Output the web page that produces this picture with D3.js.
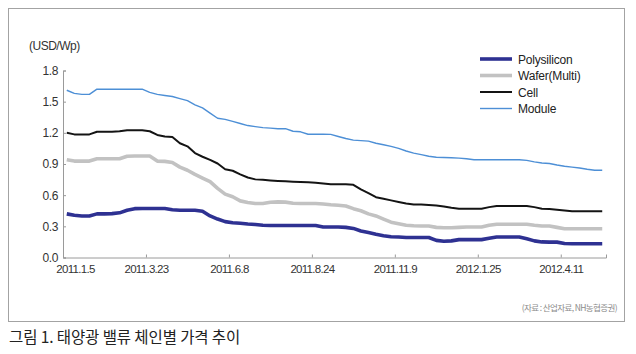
<!DOCTYPE html>
<html>
<head>
<meta charset="utf-8">
<script src="https://cdn.jsdelivr.net/npm/d3@7"></script>
<style>
  body { margin: 0; background: #fff; }
  svg { display: block; }
</style>
</head>
<body>
<svg id="chart" width="636" height="354"></svg>
<script>
// weekly prices, 2011.1.5 ~ (72 weeks)
let tickLabels = ['2011.1.5', '2011.3.23', '2011.6.8', '2011.8.24', '2011.11.9', '2012.1.25', '2012.4.11'];
let tickWeeks = [0, 11, 22, 33, 44, 55, 66];
let yTicks = [0, 0.3, 0.6, 0.9, 1.2, 1.5, 1.8];

let seriesNames = ['Polysilicon', 'Wafer(Multi)', 'Cell', 'Module'];

let polysilicon = [0.42, 0.406, 0.40, 0.40, 0.42, 0.42, 0.422, 0.43, 0.455, 0.47,
    0.472, 0.472, 0.472, 0.472, 0.46, 0.455, 0.455, 0.455, 0.445, 0.40,
    0.37, 0.345, 0.335, 0.33, 0.322, 0.318, 0.31, 0.308, 0.308, 0.308,
    0.308, 0.308, 0.308, 0.308, 0.294, 0.294, 0.294, 0.29, 0.28, 0.255,
    0.24, 0.223, 0.21, 0.20, 0.197, 0.193, 0.193, 0.193, 0.193, 0.165,
    0.156, 0.16, 0.172, 0.172, 0.172, 0.172, 0.185, 0.197, 0.197, 0.197,
    0.197, 0.18, 0.16, 0.15, 0.148, 0.148, 0.135, 0.133, 0.133, 0.133,
    0.133, 0.133];

let wafer = [0.94, 0.928, 0.928, 0.928, 0.95, 0.951, 0.951, 0.951, 0.975, 0.977,
    0.977, 0.977, 0.928, 0.925, 0.915, 0.87, 0.84, 0.80, 0.765, 0.73,
    0.665, 0.61, 0.585, 0.545, 0.53, 0.52, 0.52, 0.532, 0.535, 0.533,
    0.522, 0.52, 0.52, 0.52, 0.515, 0.508, 0.503, 0.495, 0.47, 0.45,
    0.42, 0.40, 0.37, 0.34, 0.325, 0.31, 0.305, 0.303, 0.303, 0.29,
    0.287, 0.287, 0.29, 0.294, 0.294, 0.294, 0.31, 0.32, 0.32, 0.32,
    0.32, 0.32, 0.31, 0.303, 0.303, 0.29, 0.277, 0.277, 0.277, 0.277,
    0.277, 0.277];

let cell = [1.20, 1.185, 1.185, 1.185, 1.21, 1.21, 1.21, 1.215, 1.225, 1.225,
    1.225, 1.215, 1.18, 1.165, 1.16, 1.10, 1.07, 1.005, 0.97, 0.94,
    0.905, 0.85, 0.835, 0.80, 0.77, 0.752, 0.748, 0.742, 0.737, 0.733,
    0.73, 0.727, 0.725, 0.72, 0.712, 0.705, 0.704, 0.704, 0.70, 0.655,
    0.62, 0.58, 0.565, 0.55, 0.535, 0.52, 0.51, 0.51, 0.505, 0.50,
    0.49, 0.478, 0.47, 0.47, 0.47, 0.47, 0.485, 0.496, 0.496, 0.496,
    0.496, 0.496, 0.485, 0.47, 0.467, 0.46, 0.452, 0.445, 0.445, 0.445,
    0.445, 0.445];

let module = [1.61, 1.58, 1.57, 1.57, 1.62, 1.62, 1.62, 1.62, 1.62, 1.62,
    1.62, 1.59, 1.57, 1.56, 1.55, 1.53, 1.51, 1.47, 1.44, 1.39,
    1.34, 1.33, 1.31, 1.29, 1.27, 1.26, 1.25, 1.245, 1.24, 1.24,
    1.215, 1.21, 1.186, 1.186, 1.186, 1.185, 1.165, 1.145, 1.13, 1.125,
    1.12, 1.10, 1.085, 1.07, 1.05, 1.025, 1.005, 0.99, 0.975, 0.965,
    0.963, 0.96, 0.957, 0.95, 0.941, 0.941, 0.941, 0.941, 0.941, 0.941,
    0.941, 0.935, 0.92, 0.91, 0.905, 0.89, 0.878, 0.87, 0.862, 0.85,
    0.84, 0.84];

let seriesData = [polysilicon, wafer, cell, module];
let seriesColors = ['#2e3192', '#c2c2c2', '#141414', '#4d8fd6'];
let seriesWidths = [3.6, 3.6, 2, 1.4];

let svg = d3.select('#chart');

// frame round the chart
svg.append('rect')
    .attr('x', 8.5).attr('y', 8.5)
    .attr('width', 616).attr('height', 313)
    .attr('fill', 'none')
    .attr('stroke', '#a3a3a3')
    .attr('stroke-width', 1);

let margL = 63;
let plotR = 606;
let plotT = 70.5;
let plotB = 257.5;

let xScale = d3.scaleLinear()
    .domain([0, polysilicon.length])
    .range([margL, plotR]);
let yScale = d3.scaleLinear()
    .domain([0, 1.8])
    .range([plotB, plotT]);

// y axis
let yAxis = svg.append('g')
    .attr('class', 'yAxis')
    .attr('transform', 'translate(' + margL + ',0)')
    .call(d3.axisLeft(yScale)
        .tickValues(yTicks)
        .tickSize(-3)
        .tickPadding(5)
        .tickFormat(d3.format('.1f')));

// x axis
let xAxis = svg.append('g')
    .attr('class', 'xAxis')
    .attr('transform', 'translate(0,' + plotB + ')')
    .call(d3.axisBottom(xScale)
        .tickValues(tickWeeks)
        .tickSize(-3)
        .tickPadding(7)
        .tickFormat(function(d, i){ return tickLabels[i]; }));

svg.selectAll('.yAxis path, .xAxis path, .yAxis line, .xAxis line')
    .attr('stroke', '#9a9a9a');
svg.selectAll('.yAxis text, .xAxis text')
    .attr('fill', '#333')
    .style('font-family', '"Liberation Sans", Arial, sans-serif')
    .style('font-size', '12px')
    .style('letter-spacing', '-0.4px');
svg.selectAll('.xAxis text')
    .style('font-size', '11.5px')
    .style('letter-spacing', '-0.7px');
// first label sits right of the origin
svg.select('.xAxis .tick text').attr('x', 12);

// unit label
svg.append('text')
    .attr('x', 29)
    .attr('y', 50)
    .attr('fill', '#333')
    .style('font-family', '"Liberation Sans", Arial, sans-serif')
    .style('font-size', '12px')
    .style('letter-spacing', '-0.5px')
    .text('(USD/Wp)');

// lines
let line = d3.line()
    .x(function(d, i){ return xScale(i + 0.5); })
    .y(function(d){ return yScale(d); });

let lineGrp = svg.append('g').attr('class', 'lineGrp');
lineGrp.selectAll('path')
    .data(seriesData)
    .enter()
    .append('path')
    .attr('d', line)
    .attr('fill', 'none')
    .attr('stroke', function(d, i){ return seriesColors[i]; })
    .attr('stroke-width', function(d, i){ return seriesWidths[i]; })
    .attr('stroke-linejoin', 'round');

// legend
let legendGrp = svg.append('g').attr('class', 'legendGrp');
let legendY = function(i){ return 59 + i * 16.5; };
legendGrp.selectAll('line')
    .data(seriesNames)
    .enter()
    .append('line')
    .attr('x1', 480).attr('x2', 512)
    .attr('y1', function(d, i){ return legendY(i); })
    .attr('y2', function(d, i){ return legendY(i); })
    .attr('stroke', function(d, i){ return seriesColors[i]; })
    .attr('stroke-width', function(d, i){ return seriesWidths[i]; });
legendGrp.selectAll('text')
    .data(seriesNames)
    .enter()
    .append('text')
    .attr('x', 518)
    .attr('y', function(d, i){ return legendY(i) + 4.5; })
    .attr('fill', '#222')
    .style('font-family', '"Liberation Sans", Arial, sans-serif')
    .style('font-size', '12px')
    .style('letter-spacing', '-0.2px')
    .text(function(d){ return d; });

// source
svg.append('text')
    .attr('x', 617)
    .attr('y', 311)
    .attr('text-anchor', 'end')
    .attr('fill', '#8a8a8a')
    .style('font-family', '"Noto Sans CJK KR", sans-serif')
    .style('font-size', '8.5px')
    .style('letter-spacing', '-0.6px')
    .text('(자료 : 산업자료, NH농협증권)');

// caption
svg.append('text')
    .attr('x', 9)
    .attr('y', 343)
    .attr('fill', '#222')
    .style('font-family', '"Noto Sans CJK KR", sans-serif')
    .style('font-size', '15.5px')
    .style('letter-spacing', '-0.1px')
    .text('그림 1. 태양광 밸류 체인별 가격 추이');
</script>
</body>
</html>
